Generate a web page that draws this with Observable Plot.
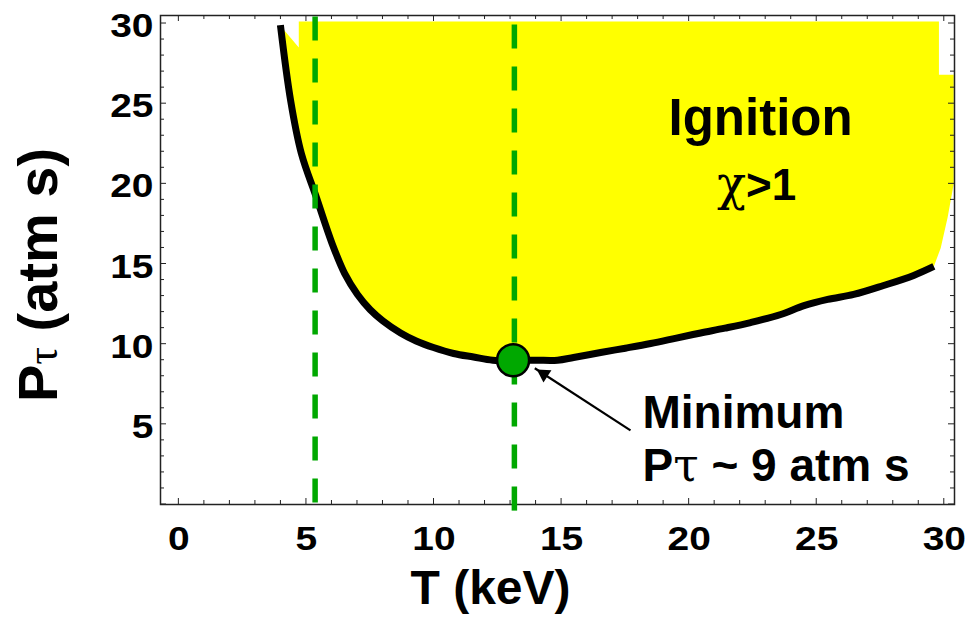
<!DOCTYPE html>
<html>
<head>
<meta charset="utf-8">
<script src="https://cdn.jsdelivr.net/npm/d3@7"></script>
<script src="https://cdn.jsdelivr.net/npm/@observablehq/plot@0.6"></script>
<style>
  html, body { margin: 0; padding: 0; background: #fff; overflow: hidden; }
  #chart svg { display: block; }
  g[aria-label="x-axis tick label"], g[aria-label="y-axis tick label"] {
    font-family: "Liberation Sans", Arial, sans-serif; font-weight: bold; font-size: 33px;
  }
</style>
</head>
<body>
<div id="chart"></div>
<script>
// Ignition boundary (chi = 1): required P*tau versus temperature
const temperature = [3.98, 4.38, 4.8, 5.39, 6.0, 6.5, 7.0, 7.5, 8.0, 8.69, 9.3, 9.98, 10.77, 11.55, 12.3,
  13.1, 14.0, 14.84, 15.47, 16.53, 17.5, 18.49, 19.5, 20.45, 21.4, 22.41, 23.59, 24.5, 25.43, 26.45,
  27.62, 28.8, 29.59];
const ptau = [29.9, 25.2, 21.9, 19.15, 16.3, 14.4, 13.1, 12.15, 11.45, 10.7, 10.2, 9.79, 9.42, 9.2, 9.0,
  9.0, 9.0, 9.0, 9.17, 9.48, 9.75, 10.04, 10.38, 10.7, 11.0, 11.35, 11.85, 12.4, 12.79, 13.1,
  13.66, 14.29, 14.85];

// Outer edge of the shaded ignition region (right side, then along the top)
const regionEdgeT = [29.86, 30.13, 30.37, 30.37, 29.79, 29.79, 4.7, 4.7, 4.12];
const regionEdgeP = [16.0, 17.9, 20.0, 26.8, 26.8, 30.13, 30.13, 28.5, 29.6];

// Optimum point
const minimumT = 13.1;
const minimumP = 9;

// Vertical guide lines (temperature, top and bottom extent)
const guideT = [5.34, 13.15];
const guideTop = [30.4, 29.9];
const guideBottom = [0, -0.55];

// Axis tick labels
const xTicks = [0, 5, 10, 15, 20, 25, 30];
const yTicks = [5, 10, 15, 20, 25, 30];
const xMinor = d3.range(0, 31);
const yMinor = d3.range(0, 31);

// Frame geometry
const W = 978, H = 624, mL = 160, mR = 24, mT = 15, mB = 120;

const curve = temperature.map((t, i) => ({T: t, P: ptau[i]}));
const region = curve.concat(regionEdgeT.map((t, i) => ({T: t, P: regionEdgeP[i]})));
const guides = guideT.map((t, i) => ({T: t, top: guideTop[i], bottom: guideBottom[i]}));
const minimum = [{T: minimumT, P: minimumP}];
const pointer = [{x1: 17.7, y1: 4.62, x2: 13.95, y2: 8.5}];

const tickLen = v => (v % 5 === 0 ? 6 : 4);
const ink = "#222";
const green = "#00a800";

const plot = Plot.plot({
  width: W,
  height: H,
  marginLeft: mL,
  marginRight: mR,
  marginTop: mT,
  marginBottom: mB,
  style: {fontFamily: "'Liberation Sans', Arial, sans-serif", background: "#fff", overflow: "visible"},
  x: {domain: [-0.72, 30.4]},
  y: {domain: [0, 30.5]},
  marks: [
    // shaded ignition region
    Plot.line(region, {x: "T", y: "P", fill: "#ffff00", stroke: "none", curve: "linear"}),
    Plot.frame({stroke: ink, strokeWidth: 1.5}),
    // boundary curve
    Plot.line(curve, {x: "T", y: "P", stroke: "black", strokeWidth: 7, curve: "catmull-rom",
      strokeLinejoin: "round", strokeLinecap: "butt"}),
    // dashed temperature guides
    Plot.ruleX(guides, {x: "T", y1: "top", y2: "bottom", stroke: green, strokeWidth: 5.5,
      strokeDasharray: "24,18", strokeLinecap: "butt"}),
    // optimum marker
    Plot.dot(minimum, {x: "T", y: "P", r: 16, fill: green, stroke: "black", strokeWidth: 2.5}),
    // pointer to the optimum
    Plot.link(pointer, {x1: "x1", y1: "y1", x2: "x2", y2: "y2", stroke: "black", strokeWidth: 2.2}),
    Plot.dot(pointer, {x: "x2", y: "y2", dx: 9.1, dy: 5.9, symbol: "triangle2", r: 7, rotate: -57, fill: "black", stroke: "none"}),
    // annotations
    Plot.text(["Ignition"], {x: () => 22.8, y: () => 24.04, text: d => d, fontSize: 51, fontWeight: "bold", fill: "black"}),
    Plot.text(["χ>1"], {x: () => 22.64, y: () => 19.9, text: d => d, fontSize: 44, fontWeight: "bold", fill: "black"}),
    Plot.text(["Minimum"], {x: () => 18.17, y: () => 5.72, text: d => d, textAnchor: "start", fontSize: 46, fontWeight: "bold", fill: "black"}),
    Plot.text(["Pτ ~ 9 atm s"], {x: () => 18.17, y: () => 2.41, text: d => d, textAnchor: "start", fontSize: 46, fontWeight: "bold", fill: "black"}),
    // axis tick labels
    Plot.axisX(xTicks, {anchor: "bottom", tickSize: 0, tickPadding: 22, label: null, tickFormat: d => String(d)}),
    Plot.axisY(yTicks, {anchor: "left", tickSize: 0, tickPadding: 7, dy: 3, label: null, tickFormat: d => String(d)}),
    // axis titles
    Plot.text(["T (keV)"], {frameAnchor: "bottom", lineAnchor: "middle", textAnchor: "middle", dx: -67, dy: 84,
      text: d => d, fontSize: 48, fontWeight: "bold", fill: "black"}),
    Plot.text(["Pτ (atm s)"], {frameAnchor: "left", lineAnchor: "middle", textAnchor: "middle", rotate: -90, dx: -121, dy: 15,
      text: d => d, fontSize: 56, fontWeight: "bold", fill: "black"})
  ]
});

const svg = d3.select(plot);
const xs = plot.scale("x"), ys = plot.scale("y");

// inward ticks on every side of the frame
const tickLayer = svg.insert("g", 'g[aria-label="frame"]').attr("stroke", ink).attr("stroke-width", 1);
xMinor.forEach(v => {
  const px = xs.apply(v), len = tickLen(v);
  tickLayer.append("line").attr("x1", px).attr("x2", px).attr("y1", H - mB).attr("y2", H - mB - len);
  tickLayer.append("line").attr("x1", px).attr("x2", px).attr("y1", mT).attr("y2", mT + len);
});
yMinor.forEach(v => {
  const py = ys.apply(v), len = tickLen(v);
  tickLayer.append("line").attr("y1", py).attr("y2", py).attr("x1", mL).attr("x2", mL + len);
  tickLayer.append("line").attr("y1", py).attr("y2", py).attr("x1", W - mR).attr("x2", W - mR - len);
});

// wide numerals for the tick labels
svg.selectAll('g[aria-label="x-axis tick label"] text, g[aria-label="y-axis tick label"] text')
  .attr("transform", function () { return (this.getAttribute("transform") || "") + " scale(1.18,1)"; });

// Greek letters set in a serif face, as in symbol fonts
function greek(node, ch, attrs) {
  const parts = node.textContent.split(ch);
  const el = d3.select(node);
  el.text(null);
  parts.forEach((p, i) => {
    if (i > 0) {
      const t = el.append("tspan").text(ch);
      Object.entries(attrs).forEach(([k, v]) => t.attr(k, v));
    }
    if (p) el.append("tspan").text(p);
  });
}
svg.selectAll("text").each(function () {
  const s = this.textContent;
  if (s === "Pτ (atm s)") greek(this, "τ", {"font-family": "'Liberation Serif', serif", "font-weight": "normal", "font-size": 44});
  else if (s === "Pτ ~ 9 atm s") greek(this, "τ", {"font-family": "'DejaVu Serif', serif", "font-weight": "normal"});
  else if (s === "χ>1") greek(this, "χ", {"font-family": "'DejaVu Serif', serif", "font-weight": "normal", "font-size": 48});
});

document.getElementById("chart").append(plot);
</script>
</body>
</html>
